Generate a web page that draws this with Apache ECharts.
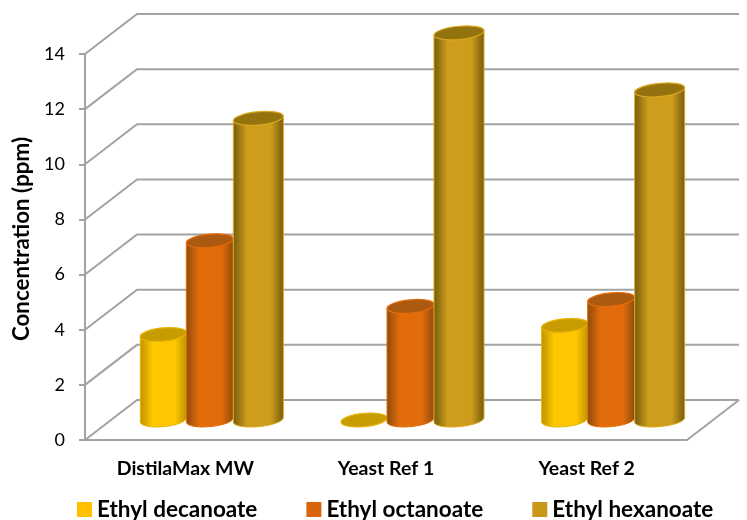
<!DOCTYPE html>
<html>
<head>
<meta charset="utf-8">
<style>html,body{margin:0;padding:0;background:#fff}#c{width:747px;height:520px}</style>
<script src="https://cdn.jsdelivr.net/npm/echarts@6/dist/echarts.min.js"></script>
</head>
<body>
<div id="c"></div>
<script>
var categories = ['DistilaMax MW', 'Yeast Ref 1', 'Yeast Ref 2'];
var ethylDecanoate = [3.1, 0, 3.43];
var ethylOctanoate = [6.5, 4.12, 4.37];
var ethylHexanoate = [10.94, 14.04, 11.97];
var yTicks = [0, 2, 4, 6, 8, 10, 12, 14];

var DX = 52, DY = -40;
var GRAY = '#a3a3a3';
var FONT = 'Lato, Carlito, sans-serif';

var looks = [
  {name: 'Ethyl decanoate', left: -71, w: 46, edge: '#bd9100', mid: '#ffc800', top: '#c69c00', rim: '#e8b400', key: '#ffc000'},
  {name: 'Ethyl octanoate', left: -25, w: 47, edge: '#8c4a0c', mid: '#e36c0a', top: '#ab5a10', rim: '#e36c0a', key: '#d9640a'},
  {name: 'Ethyl hexanoate', left: 22, w: 50, edge: '#735a0c', mid: '#cf9d1c', top: '#94730f', rim: '#dba920', key: '#c9971a'}
];

function cylinder(look) {
  return function (params, api) {
    var cat = api.value(0), v = api.value(1);
    var base = api.coord([cat, 0]);
    var top = api.coord([cat, v]);
    var cx = base[0] + DX / 2 + look.left + look.w / 2;
    var by = base[1] + DY / 2;
    var ty = top[1] + DY / 2;
    var rx = look.w / 2, ry = 6.6, t = 2.2, rot = -5.5;
    var xl = cx - rx, xr = cx + rx;
    var topEll = 'M' + xl + ' ' + (ty + t) + ' A' + rx + ' ' + ry + ' ' + rot + ' 1 1 ' + xr + ' ' + (ty - t) +
                 ' A' + rx + ' ' + ry + ' ' + rot + ' 1 1 ' + xl + ' ' + (ty + t) + ' Z';
    var children = [];
    if (v > 0) {
      var body = 'M' + xl + ' ' + (ty + t) + ' L' + xl + ' ' + (by + t) +
                 ' A' + rx + ' ' + ry + ' ' + rot + ' 0 0 ' + xr + ' ' + (by - t) +
                 ' L' + xr + ' ' + (ty - t) + ' Z';
      children.push({
        type: 'path',
        shape: {pathData: body},
        style: {
          fill: new echarts.graphic.LinearGradient(0, 0, 1, 0, [
            {offset: 0, color: look.edge},
            {offset: 0.28, color: look.mid},
            {offset: 0.74, color: look.mid},
            {offset: 1, color: look.edge}
          ]),
          stroke: look.rim, lineWidth: 1
        }
      });
    }
    children.push({
      type: 'path',
      shape: {pathData: topEll},
      style: {fill: look.top, stroke: look.rim, lineWidth: 1.2}
    });
    return {type: 'group', children: children};
  };
}

function wallLine(params, api) {
  var v = api.value(0);
  var f = api.coord([0, v]);
  var x0 = params.coordSys.x, x1 = params.coordSys.x + params.coordSys.width;
  var pts = [[x0, f[1]], [x0 + DX, f[1] + DY], [x1 + DX, f[1] + DY]];
  var kids = [{type: 'polyline', shape: {points: pts}, style: {fill: 'none', stroke: GRAY, lineWidth: 2}}];
  if (v === 0) {
    kids.push({type: 'line', shape: {x1: x1, y1: f[1], x2: x1 + DX, y2: f[1] + DY}, style: {stroke: GRAY, lineWidth: 2}});
  }
  return {type: 'group', children: kids};
}

var chart = echarts.init(document.getElementById('c'), null, {renderer: 'canvas'});
var allData = [ethylDecanoate, ethylOctanoate, ethylHexanoate];

var series = [{
  type: 'custom', name: 'walls', silent: true, z: 1, clip: false,
  renderItem: wallLine,
  data: yTicks.map(function (t) { return [t]; }),
  encode: {y: 0}
}];
looks.forEach(function (look, i) {
  series.push({
    type: 'custom', name: look.name, silent: true, z: 3 + i, clip: false,
    itemStyle: {color: look.key},
    renderItem: cylinder(look),
    data: allData[i].map(function (v, k) { return [k, v]; }),
    encode: {x: 0, y: 1}
  });
});

chart.setOption({
  animation: false,
  backgroundColor: '#fff',
  grid: {left: 85, right: 60, top: 54, bottom: 80, containLabel: false, outerBoundsMode: 'none'},
  legend: {
    left: 72, top: 493, itemWidth: 15, itemHeight: 15, itemGap: 49, icon: 'rect',
    selectedMode: false,
    data: looks.map(function (l) { return l.name; }),
    textStyle: {fontFamily: FONT, fontWeight: 'bold', fontSize: 22.5, color: '#000'}
  },
  xAxis: {
    type: 'category', data: categories,
    axisLine: {show: true, lineStyle: {color: GRAY, width: 2}},
    axisTick: {show: false},
    axisLabel: {fontFamily: FONT, fontWeight: 'bold', fontSize: 19.5, color: '#000', margin: 19}
  },
  yAxis: {
    type: 'value', min: 0, max: 14, interval: 2,
    name: 'Concentration (ppm)', nameLocation: 'middle', nameGap: 51,
    nameTextStyle: {fontFamily: FONT, fontWeight: 'bold', fontSize: 22.4, color: '#000', padding: [0, 0, 0, 16]},
    axisLine: {show: true, lineStyle: {color: GRAY, width: 2}},
    axisTick: {show: true, length: 6, lineStyle: {color: GRAY, width: 2}},
    axisLabel: {fontFamily: FONT, fontSize: 18, color: '#000', margin: 20},
    splitLine: {show: false}
  },
  series: series
});
</script>
</body>
</html>
